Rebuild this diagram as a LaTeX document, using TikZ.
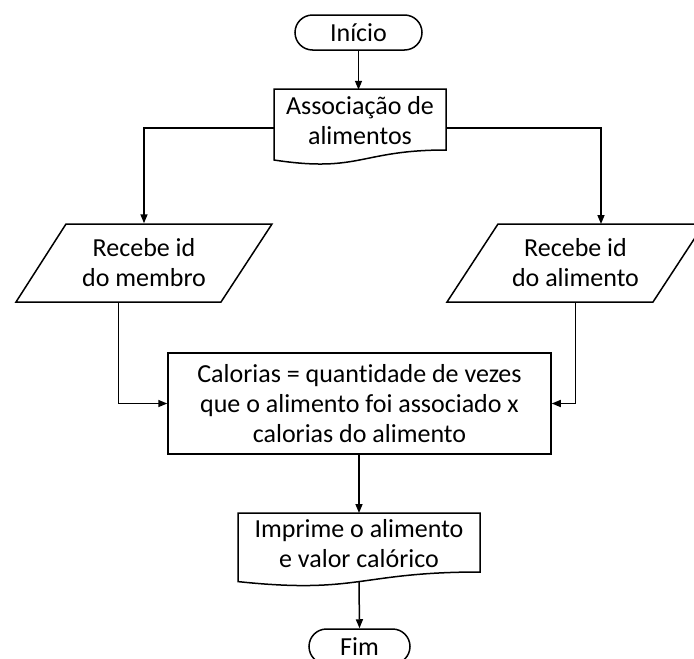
\documentclass[tikz,border=0pt]{standalone}
\usepackage{fontspec}
\setmainfont{Carlito}[Ligatures=CommonOff]
\usetikzlibrary{arrows.meta,shapes.misc,calc}
\begin{document}
\begin{tikzpicture}[x=1pt,y=-1pt,
  line width=1.5pt,
  every node/.style={font=\fontsize{26}{30}\selectfont, align=center, inner sep=0pt},
  term/.style={draw, rounded rectangle, minimum height=35pt},
  plain/.style={draw=none, rectangle},
  procbox/.style={draw, rectangle, minimum width=383pt, minimum height=101pt},
  arr/.style={-{Triangle[length=9pt,width=7pt]}}]
\clip (0,0) rectangle (694,659);
\fill[white] (0,0) rectangle (694,659);

% document: Associacao
\draw (274,89) -- (446,89) -- (446,150)
  .. controls (360,150) and (360,173.1) .. (274,160) -- cycle;
% document: Imprime
\draw (238,513) -- (480,513) -- (480,572)
  .. controls (359,572) and (359,594.4) .. (238,581.6) -- cycle;
% parallelograms
\draw (66,224) -- (272,224) -- (221,302) -- (16,302) -- cycle;
\draw (498,224) -- (704,224) -- (653,302) -- (447,302) -- cycle;

% nodes
\node[term, minimum width=127pt] (ini) at (358.5,32.5) {Início};
\node[plain, minimum width=172pt, minimum height=61pt] (assoc) at (360,121) {Associação de\\alimentos};
\node[plain, minimum width=155pt, minimum height=78pt] (recm) at (144,263) {Recebe id\\do membro};
\node[plain, minimum width=155pt, minimum height=78pt] (ral) at (575.5,263) {Recebe id\\do alimento};
\node[procbox] (calc) at (359.5,403.5) {Calorias = quantidade de vezes\\que o alimento foi associado x\\calorias do alimento};
\node[plain, minimum width=242pt, minimum height=59pt] (prt) at (359,544) {Imprime o alimento\\e valor calórico};
\node[term, minimum width=101pt] (fim) at (359.5,646.5) {Fim};

\coordinate (assocL) at (274,128);
\coordinate (assocR) at (446,128);
\coordinate (recmB) at (118.5,302);
\coordinate (ralT) at (601,224);
\coordinate (prtT) at (359,513);
\coordinate (prtB) at (359,581.6);

% connectors
\draw[arr] (ini.south) -- (ini.south |- assoc.north);
\draw[arr] (assocL) -| (recm.north);
\draw[arr] (assocR) -| (ralT);
\draw[arr] (recmB) |- (calc.west);
\draw[arr] (ral.center |- recm.south) |- (calc.east);
\draw[arr] (calc.south -| prtT) -- (prtT);
\draw[arr] (prtB) -- (fim.north);
\end{tikzpicture}
\end{document}
